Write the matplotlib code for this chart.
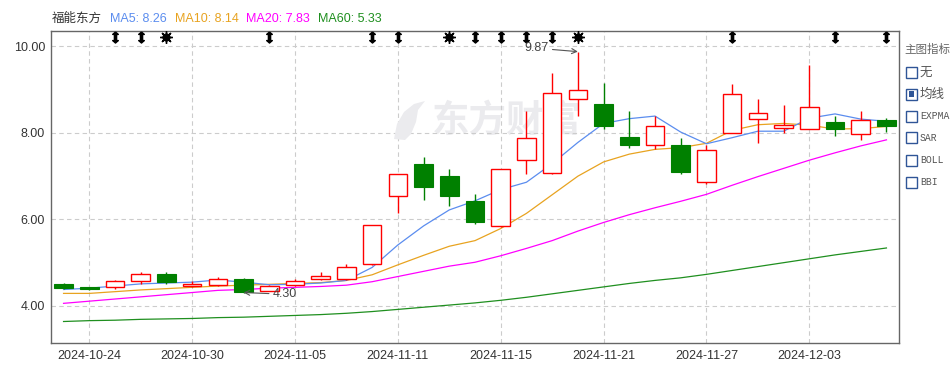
import matplotlib
matplotlib.use("Agg")
import matplotlib.pyplot as plt
from matplotlib.path import Path
from matplotlib.patches import Rectangle, Polygon
import matplotlib.transforms as mtransforms

plt.rcParams['font.family'] = ['Liberation Sans', 'Noto Sans CJK SC', 'DejaVu Sans']

# ---------------- data ----------------
stock_name = "福能东方"
dates = ['2024-10-23', '2024-10-24', '2024-10-25', '2024-10-28', '2024-10-29', '2024-10-30',
         '2024-10-31', '2024-11-01', '2024-11-04', '2024-11-05', '2024-11-06', '2024-11-07',
         '2024-11-08', '2024-11-11', '2024-11-12', '2024-11-13', '2024-11-14', '2024-11-15',
         '2024-11-18', '2024-11-19', '2024-11-20', '2024-11-21', '2024-11-22', '2024-11-25',
         '2024-11-26', '2024-11-27', '2024-11-28', '2024-11-29', '2024-12-02', '2024-12-03',
         '2024-12-04', '2024-12-05', '2024-12-06']
opens = [4.50, 4.42, 4.42, 4.56, 4.73, 4.46, 4.47, 4.61, 4.34, 4.47, 4.61, 4.62, 4.97,
         6.53, 7.27, 6.99, 6.42, 5.83, 7.36, 7.06, 8.77, 8.66, 7.90, 7.70, 7.71, 6.85,
         8.00, 8.31, 8.10, 8.07, 8.24, 7.96, 8.29]
closes = [4.41, 4.38, 4.57, 4.73, 4.54, 4.50, 4.61, 4.31, 4.44, 4.57, 4.68, 4.88, 5.85,
          7.03, 6.75, 6.54, 5.94, 7.15, 7.87, 8.91, 8.98, 8.16, 7.70, 8.14, 7.09, 7.59,
          8.88, 8.44, 8.17, 8.58, 8.07, 8.28, 8.16]
highs = [4.51, 4.43, 4.60, 4.78, 4.78, 4.57, 4.65, 4.64, 4.47, 4.61, 4.78, 4.96, 5.86,
         7.04, 7.43, 7.16, 6.58, 7.16, 8.50, 9.38, 9.87, 9.15, 8.50, 8.38, 7.87, 7.71,
         9.12, 8.78, 8.64, 9.56, 8.38, 8.50, 8.33]
lows = [4.38, 4.36, 4.39, 4.50, 4.50, 4.43, 4.46, 4.30, 4.33, 4.45, 4.60, 4.60, 4.94,
        6.15, 6.45, 6.31, 5.88, 5.82, 7.05, 7.05, 8.39, 8.09, 7.65, 7.62, 7.05, 6.80,
        8.00, 7.76, 8.00, 8.07, 7.93, 7.83, 8.02]
ma5 = [4.37, 4.40, 4.45, 4.50, 4.52, 4.54, 4.59, 4.54, 4.48, 4.49, 4.52, 4.58, 4.88,
       5.40, 5.84, 6.21, 6.42, 6.68, 6.85, 7.28, 7.77, 8.21, 8.32, 8.38, 8.01, 7.74,
       7.88, 8.03, 8.03, 8.33, 8.43, 8.31, 8.26]
ma10 = [4.28, 4.28, 4.32, 4.36, 4.39, 4.42, 4.45, 4.47, 4.49, 4.51, 4.53, 4.58, 4.71,
        4.94, 5.16, 5.37, 5.50, 5.78, 6.13, 6.56, 6.99, 7.32, 7.50, 7.61, 7.65, 7.75,
        8.05, 8.18, 8.21, 8.17, 8.08, 8.09, 8.14]
ma20 = [4.05, 4.10, 4.15, 4.20, 4.25, 4.30, 4.35, 4.37, 4.40, 4.42, 4.44, 4.47, 4.55,
        4.67, 4.79, 4.91, 5.00, 5.15, 5.32, 5.50, 5.72, 5.92, 6.10, 6.26, 6.41, 6.57,
        6.78, 6.98, 7.17, 7.36, 7.53, 7.69, 7.83]
ma60 = [3.63, 3.65, 3.66, 3.68, 3.69, 3.70, 3.72, 3.73, 3.75, 3.77, 3.79, 3.82, 3.86,
        3.91, 3.96, 4.01, 4.06, 4.12, 4.19, 4.27, 4.35, 4.43, 4.51, 4.58, 4.64, 4.72,
        4.81, 4.90, 4.99, 5.08, 5.17, 5.25, 5.33]
ma_labels = ["MA5: 8.26", "MA10: 8.14", "MA20: 7.83", "MA60: 5.33"]
event_idx = [2, 3, 8, 12, 13, 16, 17, 18, 19, 26, 30, 32]
star_idx = [4, 15, 20]
yticks = [4.0, 6.0, 8.0, 10.0]
xtick_idx = [1, 5, 9, 13, 17, 21, 25, 29]
panel_title = "主图指标"
panel_items = ["无", "均线", "EXPMA", "SAR", "BOLL", "BBI"]
panel_checked = [False, True, False, False, False, False]

# ---------------- figure ----------------
W, H = 951, 365
fig = plt.figure(figsize=(W / 100, H / 100), dpi=100)
L, R, T, B = 50.7, 899.3, 31, 343
ax = fig.add_axes([L / W, 1 - B / H, (R - L) / W, (B - T) / H])

C_UP = '#ff0000'
C_DN = '#008000'
C_MA5 = '#5b8def'
C_MA10 = '#e8a320'
C_MA20 = '#ff00ff'
C_MA60 = '#1f8f1f'

x = list(range(len(dates)))
bw = 0.72

# watermark
ax.text(0.537, 0.712, "东方财富", transform=ax.transAxes, fontsize=27, fontweight='bold',
        color='#ebebee', ha='center', va='center', family=['Noto Sans CJK SC'], zorder=0)
logo = Polygon([[394, 139], [397, 124], [404, 112], [414, 104], [425, 101], [418, 110],
                [416, 122], [411, 134], [405, 140]], closed=True, facecolor='#ebebee',
               edgecolor='none', zorder=0)
logo.set_transform(mtransforms.Affine2D().scale(1, -1).translate(0, H))
fig.patches.append(logo)

# MA lines
ax.plot(x, ma60, color=C_MA60, lw=0.9, zorder=2)
ax.plot(x, ma20, color=C_MA20, lw=0.9, zorder=2)
ax.plot(x, ma10, color=C_MA10, lw=0.9, zorder=2)
ax.plot(x, ma5, color=C_MA5, lw=0.9, zorder=2)

# candles
for i in x:
    o, c, h, l = opens[i], closes[i], highs[i], lows[i]
    if c >= o:
        lo_b, hi_b = o, c
        ax.vlines(i, hi_b, h, color=C_UP, lw=1.0, zorder=3)
        ax.vlines(i, l, lo_b, color=C_UP, lw=1.0, zorder=3)
        ax.bar(i, hi_b - lo_b, bottom=lo_b, width=bw, facecolor='white', edgecolor=C_UP,
               linewidth=1.0, zorder=3)
    else:
        ax.vlines(i, l, h, color=C_DN, lw=1.0, zorder=3)
        ax.bar(i, o - c, bottom=c, width=bw, facecolor=C_DN, edgecolor=C_DN,
               linewidth=0.8, zorder=3)

# event markers at top
arrow_verts = [(0, 1), (0.5, 0.55), (0.2, 0.55), (0.2, -0.55), (0.5, -0.55), (0, -1),
               (-0.5, -0.55), (-0.2, -0.55), (-0.2, 0.55), (-0.5, 0.55), (0, 1)]
arrow_marker = Path(arrow_verts)
trans = mtransforms.blended_transform_factory(ax.transData, ax.transAxes)
ymk = 0.981
ax.plot(event_idx, [ymk] * len(event_idx), ls='none', marker=arrow_marker, markersize=8,
        color='black', transform=trans, clip_on=False, zorder=5)
ax.plot(star_idx, [ymk] * len(star_idx), ls='none', marker=(8, 2, 0), markersize=9,
        markeredgewidth=1.0, color='black', transform=trans, clip_on=False, zorder=5)
ax.plot(star_idx, [ymk] * len(star_idx), ls='none', marker='o', markersize=5,
        color='black', transform=trans, clip_on=False, zorder=5)

# annotations
imax = highs.index(max(highs))
imin = lows.index(min(lows))
ax.annotate(f"{highs[imax]:.2f}", xy=(imax, highs[imax]), xytext=(imax - 1.62, 9.95),
            ha='center', va='center', fontsize=9, color='#444444',
            arrowprops=dict(arrowstyle='->', color='#555555', lw=0.8, shrinkA=1, shrinkB=0),
            zorder=6)
ax.annotate(f"{lows[imin]:.2f}", xy=(imin, lows[imin]), xytext=(imin + 1.62, 4.26),
            ha='center', va='center', fontsize=9, color='#444444',
            arrowprops=dict(arrowstyle='->', color='#555555', lw=0.8, shrinkA=1, shrinkB=0),
            zorder=6)

# axes styling
ax.set_xlim(-0.5, 32.5)
ax.set_ylim(3.133, 10.347)
ax.set_yticks(yticks)
ax.set_yticklabels([f"{v:.2f}" for v in yticks])
ax.set_xticks(xtick_idx)
ax.set_xticklabels([dates[i] for i in xtick_idx])
ax.tick_params(axis='both', length=0, labelsize=9, labelcolor='#333333')
ax.tick_params(axis='y', pad=4)
ax.tick_params(axis='x', pad=5)
ax.grid(True, color='#cccccc', linestyle=(0, (4, 3)), linewidth=0.8)
ax.set_axisbelow(True)
for s in ax.spines.values():
    s.set_color('#666666')
    s.set_linewidth(1.0)

# header
fig.text(51.5 / W, 1 - 18.5 / H, stock_name, fontsize=9, color='#333333', va='center',
         family=['Noto Sans CJK SC'])
for txt, xp, col in zip(ma_labels, [110, 175, 246.5, 318], [C_MA5, C_MA10, C_MA20, C_MA60]):
    fig.text(xp / W, 1 - 18.5 / H, txt, fontsize=9, color=col, va='center')

# right panel
fig.text(904 / W, 1 - 49 / H, panel_title, fontsize=8.3, color='#666666', va='center',
         family=['Noto Sans CJK SC'])
ys = [72.7, 94.2, 116, 137.8, 160, 182.3]
for lab, yy, chk in zip(panel_items, ys, panel_checked):
    box = Rectangle((906 / W, 1 - (yy + 5.5) / H), 11 / W, 11 / H, transform=fig.transFigure,
                    facecolor='white', edgecolor='#2f5597', linewidth=1.0)
    fig.patches.append(box)
    if chk:
        inner = Rectangle((908.8 / W, 1 - (yy + 2.7) / H), 5.4 / W, 5.4 / H,
                          transform=fig.transFigure, facecolor='#2f5597', edgecolor='none')
        fig.patches.append(inner)
    if lab.isascii():
        fig.text(920 / W, 1 - yy / H, lab, fontsize=7, color='#555555', va='center',
                 family=['Liberation Mono'])
    else:
        fig.text(920 / W, 1 - yy / H, lab, fontsize=9, color='#555555', va='center',
                 family=['Noto Sans CJK SC'])

fig.savefig("out.png", dpi=100)
